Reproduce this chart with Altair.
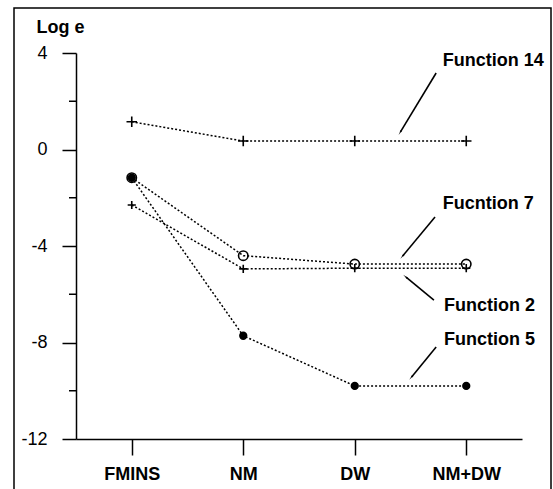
import math
import altair as alt
import pandas as pd

# ---- data ----
categories = ["FMINS", "NM", "DW", "NM+DW"]
series_names = ["Function 14", "Fucntion 7", "Function 2", "Function 5"]
f14 = [1.15, 0.35, 0.35, 0.35]
f7 = [-1.17, -4.40, -4.75, -4.75]
f2 = [-2.30, -4.95, -4.92, -4.92]
f5 = [-1.17, -7.72, -9.80, -9.80]

y_major = [4, 0, -4, -8, -12]
y_minor = [2, -2, -6, -10]

# annotation labels (data units) and their arrows
ann_text = ["Function 14", "Fucntion 7", "Function 2", "Function 5"]
ann_tx = [2.79, 2.79, 2.80, 2.80]
ann_ty = [3.67, -2.27, -6.50, -7.90]
arr_x1 = [2.73, 2.72, 2.71, 2.73]
arr_y1 = [3.17, -2.80, -6.24, -8.19]
arr_x2 = [2.41, 2.43, 2.46, 2.51]
arr_y2 = [0.73, -4.41, -5.29, -9.43]

# ---- build tables ----
rows = []
for name, vals in zip(series_names, [f14, f7, f2, f5]):
    for i, v in enumerate(vals):
        rows.append({"series": name, "xi": i, "cat": categories[i], "v": v})
df = pd.DataFrame(rows)

W, H = 446, 386
px_x = W / 4.0
px_y = H / 16.0
angles = []
for a, b, c, d in zip(arr_x1, arr_y1, arr_x2, arr_y2):
    dx = (c - a) * px_x
    dy = -(d - b) * px_y
    ang = math.degrees(math.atan2(dx, -dy)) % 360
    angles.append(ang)

ann = pd.DataFrame({"t": ann_text, "tx": ann_tx, "ty": ann_ty,
                    "x1": arr_x1, "y1": arr_y1, "x2": arr_x2, "y2": arr_y2,
                    "ang": angles})
minor = pd.DataFrame({"m": y_minor})

FONT_B = "Liberation Sans, Arial, sans-serif"
FONT_R = "Liberation Sans, Arial, sans-serif"

label_expr = "[" + ",".join("'" + c + "'" for c in categories) + "][datum.value]"

xscale = alt.Scale(domain=[-0.5, 3.5], nice=False, zero=False)
yscale = alt.Scale(domain=[-12, 4], nice=False, zero=False)

x_enc = alt.X("xi:Q", scale=xscale,
              axis=alt.Axis(values=[0, 1, 2, 3], labelExpr=label_expr, grid=False,
                            tickSize=16, tickWidth=1.5, tickColor="black",
                            domainColor="black", domainWidth=1.5,
                            labelFont=FONT_B, labelFontWeight="bold",
                            labelFontSize=18, labelColor="black",
                            labelPadding=10, title=None))
y_enc = alt.Y("v:Q", scale=yscale,
              axis=alt.Axis(values=y_major, grid=False, tickSize=14,
                            tickWidth=1.5, tickColor="black",
                            domainColor="black", domainWidth=1.5,
                            labelExpr="replace(datum.label, '\u2212', '-')",
                            labelFont=FONT_R, labelFontSize=18,
                            labelColor="black", labelPadding=15,
                            title="Log e", titleAngle=0, titleAlign="left",
                            titleBaseline="middle", titleX=-40, titleY=-26,
                            titleFont=FONT_B, titleFontWeight="bold",
                            titleFontSize=18, titleColor="black"))

base = alt.Chart(df)

lines = base.mark_line(color="black", strokeDash=[2, 2], strokeWidth=1.5).encode(
    x=x_enc, y=y_enc, detail="series:N")

plus = "M-1,0L1,0M0,-1L0,1"
points = base.mark_point(color="black", strokeWidth=1.6, opacity=1).encode(
    x=alt.X("xi:Q", scale=xscale),
    y=alt.Y("v:Q", scale=yscale),
    shape=alt.Shape("series:N", scale=alt.Scale(domain=series_names,
                    range=[plus, "circle", plus, "circle"]), legend=None),
    size=alt.Size("series:N", scale=alt.Scale(domain=series_names,
                  range=[110, 45, 60, 18]), legend=None),
    fill=alt.Fill("series:N", scale=alt.Scale(domain=series_names,
                  range=["transparent", "transparent", "black", "black"]), legend=None),
)

minor_ticks = alt.Chart(minor).mark_rule(color="black", strokeWidth=1.5).encode(
    x=alt.value(-7), x2=alt.value(0), y=alt.Y("m:Q", scale=yscale))

arrows = alt.Chart(ann).mark_rule(color="black", strokeWidth=1.6).encode(
    x=alt.X("x1:Q", scale=xscale), y=alt.Y("y1:Q", scale=yscale),
    x2="x2:Q", y2="y2:Q")

heads = alt.Chart(ann).mark_point(shape="wedge", filled=True, color="black",
                                  size=40, opacity=1).encode(
    x=alt.X("x2:Q", scale=xscale), y=alt.Y("y2:Q", scale=yscale),
    angle=alt.Angle("ang:Q", scale=None))

labels = alt.Chart(ann).mark_text(align="left", baseline="middle",
                                  font=FONT_B, fontWeight="bold",
                                  fontSize=18, color="black").encode(
    x=alt.X("tx:Q", scale=xscale), y=alt.Y("ty:Q", scale=yscale), text="t:N")

frame = alt.Chart(pd.DataFrame({"a": [0]})).mark_rect(
    fill="transparent", stroke="black", strokeWidth=1.5).encode(
    x=alt.value(-62), x2=alt.value(475), y=alt.value(-45), y2=alt.value(460))

chart = alt.layer(frame, minor_ticks, lines, points, arrows, heads, labels).properties(
    width=W, height=H,
    autosize=alt.AutoSizeParams(type="none"),
    padding={"left": 76, "top": 53, "right": 31, "bottom": 50},
    background="white",
).configure_view(stroke=None)

chart.save("out.html", embed_options={"renderer": "svg", "actions": False})
